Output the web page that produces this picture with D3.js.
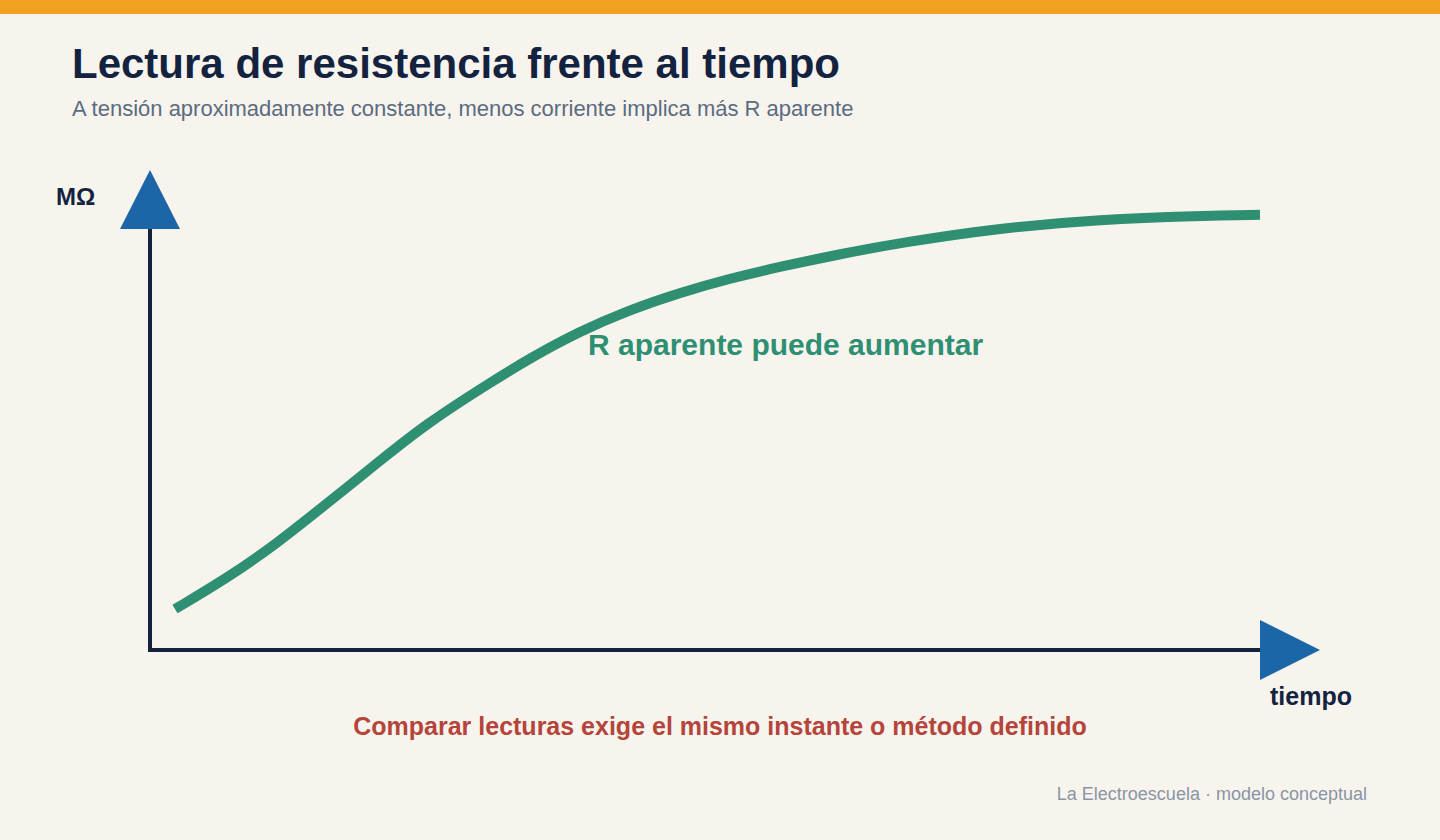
<!DOCTYPE html>
<html>
<head>
<meta charset="utf-8">
<script src="https://cdn.jsdelivr.net/npm/d3@7"></script>
<style>
    html, body { margin: 0; padding: 0; background: #f7f4ee; }
    svg { display: block; font-family: "Liberation Sans", Arial, Helvetica, sans-serif; }
</style>
</head>
<body>
<div id="chart"></div>
<script>
// tiempo (unidades arbitrarias) y resistencia aparente (% del máximo del eje)
const times = [2.25, 6.9, 11.4, 15.9, 20.5, 25, 30.9, 34.2, 38.7, 43.2, 47.7, 52.3, 56.8, 62.2, 67.6, 76.6, 85.6, 94.6, 100]
const resistance = [9.1, 15.9, 23.6, 32.5, 41.6, 50.5, 59.8, 64.8, 70.8, 75.6, 79.4, 82.6, 85.2, 88, 90.5, 93.8, 95.7, 96.5, 96.7]

const texts = {
    title: 'Lectura de resistencia frente al tiempo',
    subtitle: 'A tensión aproximadamente constante, menos corriente implica más R aparente',
    yLabel: 'MΩ',
    xLabel: 'tiempo',
    curveLabel: 'R aparente puede aumentar',
    note: 'Comparar lecturas exige el mismo instante o método definido',
    footer: 'La Electroescuela · modelo conceptual'
}

const W = 1440, H = 840
const navy = '#13233f'
const blue = '#1c66a8'
const green = '#2e8f73'

const svg = d3.select('#chart').append('svg')
    .attr('width', W)
    .attr('height', H)

svg.append('rect').attr('width', W).attr('height', H).attr('fill', '#f7f4ee')
svg.append('rect').attr('width', W).attr('height', 14).attr('fill', '#f0a11f')

svg.append('text')
    .attr('x', 72).attr('y', 78)
    .attr('font-size', 42).attr('font-weight', 700)
    .attr('fill', navy)
    .text(texts.title)

svg.append('text')
    .attr('x', 72).attr('y', 116)
    .attr('font-size', 22)
    .attr('fill', '#5b6b80')
    .text(texts.subtitle)

const x = d3.scaleLinear().domain([0, 100]).range([150, 1260])
const y = d3.scaleLinear().domain([0, 100]).range([650, 200])

const g = svg.append('g')

// ejes
g.append('line')
    .attr('x1', x(0)).attr('y1', y(0) + 2)
    .attr('x2', x(0)).attr('y2', 229)
    .attr('stroke', navy).attr('stroke-width', 4)
g.append('line')
    .attr('x1', x(0) - 2).attr('y1', y(0))
    .attr('x2', x(100)).attr('y2', y(0))
    .attr('stroke', navy).attr('stroke-width', 4)

// flechas
g.append('path')
    .attr('d', `M${x(0) - 30},229 L${x(0)},170 L${x(0) + 30},229 Z`)
    .attr('fill', blue)
g.append('path')
    .attr('d', `M${x(100)},${y(0) - 30} L${x(100) + 60},${y(0)} L${x(100)},${y(0) + 30} Z`)
    .attr('fill', blue)

g.append('text')
    .attr('x', 56).attr('y', 205)
    .attr('font-size', 24).attr('font-weight', 700)
    .attr('fill', navy)
    .text(texts.yLabel)

g.append('text')
    .attr('x', 1270).attr('y', 705)
    .attr('font-size', 25).attr('font-weight', 700)
    .attr('fill', navy)
    .text(texts.xLabel)

// curva
const line = d3.line()
    .x((d, i) => x(times[i]))
    .y(d => y(d))
    .curve(d3.curveBasis)

g.append('path')
    .datum(resistance)
    .attr('d', line)
    .attr('fill', 'none')
    .attr('stroke', green)
    .attr('stroke-width', 10)

g.append('text')
    .attr('x', 588).attr('y', 355)
    .attr('font-size', 30).attr('font-weight', 700)
    .attr('fill', green)
    .text(texts.curveLabel)

svg.append('text')
    .attr('x', 720).attr('y', 735)
    .attr('text-anchor', 'middle')
    .attr('font-size', 25).attr('font-weight', 700)
    .attr('fill', '#b5443a')
    .text(texts.note)

svg.append('text')
    .attr('x', 1367).attr('y', 800)
    .attr('text-anchor', 'end')
    .attr('font-size', 18)
    .attr('fill', '#8a94a3')
    .text(texts.footer)
</script>
</body>
</html>
